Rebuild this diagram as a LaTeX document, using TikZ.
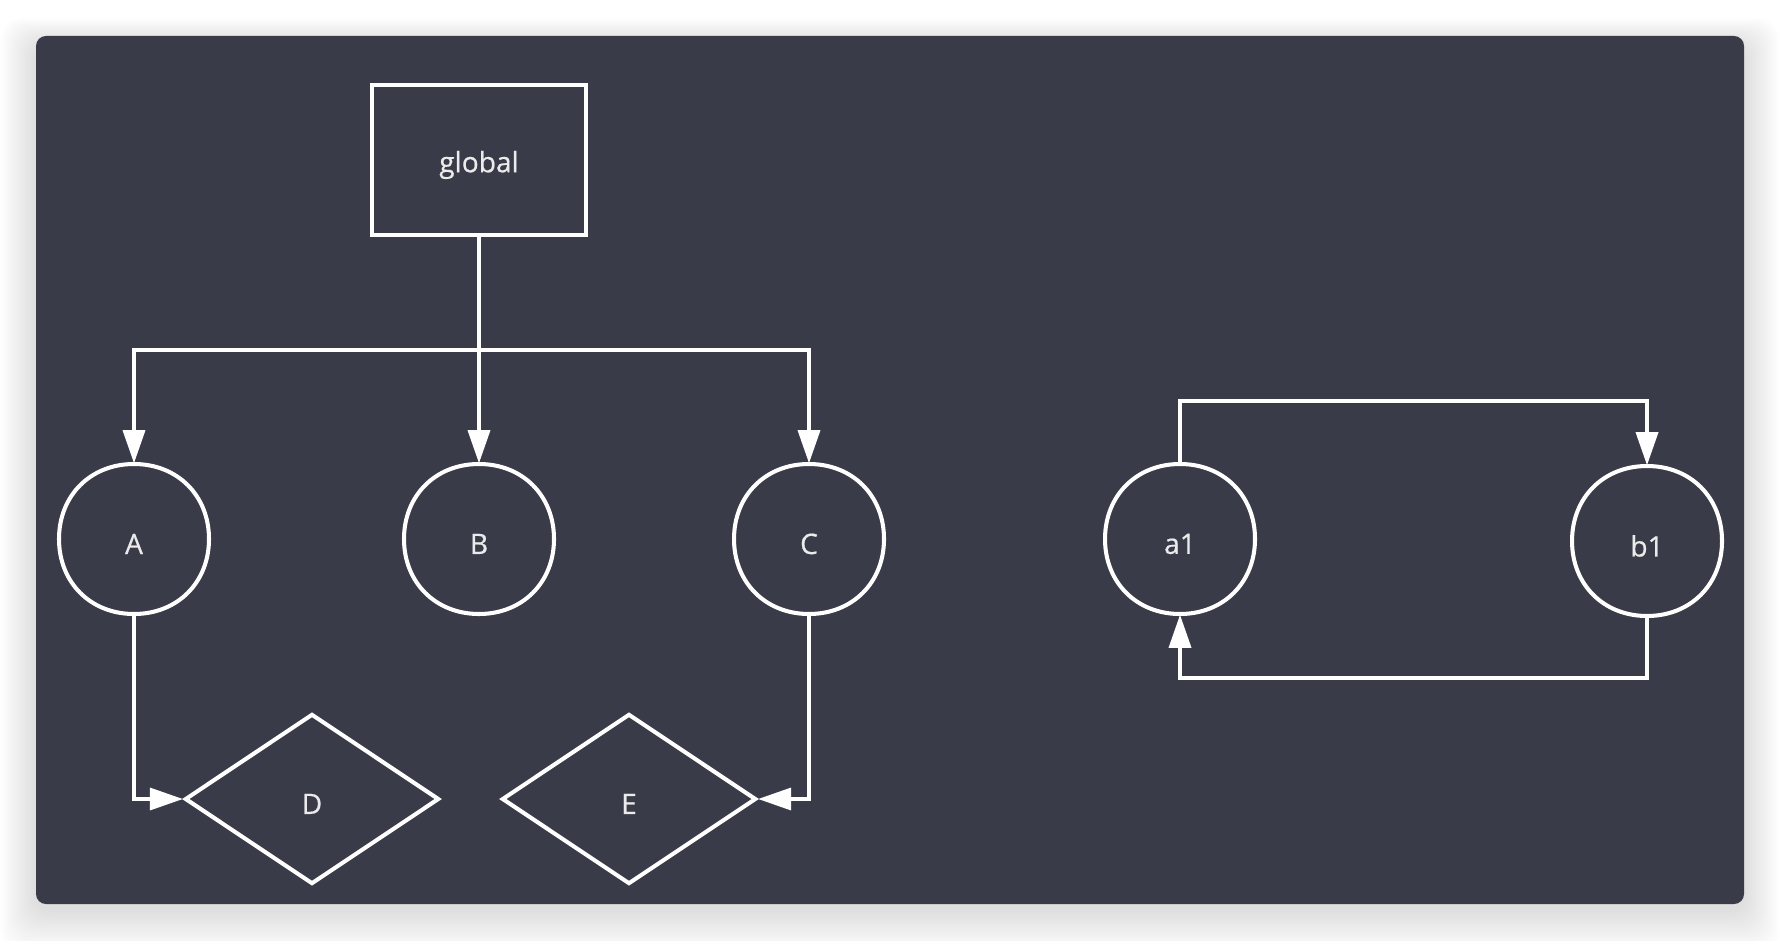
\documentclass[tikz,border=0pt]{standalone}
\usepackage{fontspec}
\setmainfont{Open Sans}
\newfontfamily\lblfont{Open Sans}[FakeBold=0.6]
\usetikzlibrary{arrows.meta,shapes.geometric,calc}
\definecolor{panelbg}{HTML}{3A3B48}
\definecolor{txt}{HTML}{EBEBEB}
\newcommand\lowtext[1]{\raisebox{-1.4pt}[\height][\depth]{#1}}
\tikzset{
  conn/.style={draw=white, line width=0.95pt, -{Triangle[length=3.3mm,width=2.2mm]}},
  shapeline/.style={draw=white, line width=1.15pt},
  lbl/.style={text=txt, font=\lblfont\fontsize{8pt}{10pt}\selectfont},
  boxnode/.style={lbl, rectangle, draw=white, line width=1.15pt, minimum width=2.13cm, minimum height=1.49cm, inner sep=0pt},
  roundnode/.style={lbl, circle, minimum size=1.5cm, inner sep=0pt},
  diamondnode/.style={lbl, diamond, draw=white, line width=1.15pt, aspect=1.5, minimum width=2.54cm, minimum height=1.7cm, inner sep=0pt}
}
\newcommand\squircle[1]{%
  \draw[shapeline] ($(#1.center)+(0,75)$) .. controls +(43.5,0) and +(0,43.5) .. ($(#1.center)+(75,0)$)
    .. controls +(0,-43.5) and +(43.5,0) .. ($(#1.center)+(0,-75)$)
    .. controls +(-43.5,0) and +(0,-43.5) .. ($(#1.center)+(-75,0)$)
    .. controls +(0,43.5) and +(-43.5,0) .. cycle;}
\begin{document}
\begin{tikzpicture}[x=0.01cm, y=-0.01cm]
\useasboundingbox (0,0) rectangle (1780,940);
\fill[white] (0,0) rectangle (1780,940);
% soft shadow
\foreach \i in {1,...,16}{
  \fill[black, opacity=0.009, rounded corners=2mm] ($(36,44)+(-2.2*\i,-1.6*\i)$) rectangle ($(1744,910)+(2.2*\i,2.6*\i)$);
}
\fill[panelbg, rounded corners=1mm] (36,36) rectangle (1744,904);

% nodes
\node[boxnode] (G) at (479,160) {\lowtext{global}};
\node[roundnode] (A) at (134,539) {\lowtext{A}};
\node[roundnode] (B) at (479,539) {\lowtext{B}};
\node[roundnode] (C) at (809,539) {\lowtext{C}};
\node[roundnode] (a1) at (1180,539) {\lowtext{a1}};
\node[roundnode] (b1) at (1647,541) {\lowtext{b1}};
\node[diamondnode] (D) at (312,799) {\lowtext{D}};
\node[diamondnode] (E) at (629,799) {\lowtext{E}};
\squircle{A}\squircle{B}\squircle{C}\squircle{a1}\squircle{b1}

\coordinate (J) at (479,350);
\coordinate (T) at (1180,401);
\coordinate (Bo) at (1180,678);

% connectors
\draw[conn] (G.south) -- (B.north);
\draw[conn] (J) -| (A.north);
\draw[conn] (J) -| (C.north);
\draw[conn] (A.south) |- (D.west);
\draw[conn] (C.south) |- (E.east);
\draw[conn] (a1.north) -- (T) -| (b1.north);
\draw[conn] (b1.south) -- (b1.south |- Bo) -- (Bo) -- (a1.south);
\end{tikzpicture}
\end{document}
